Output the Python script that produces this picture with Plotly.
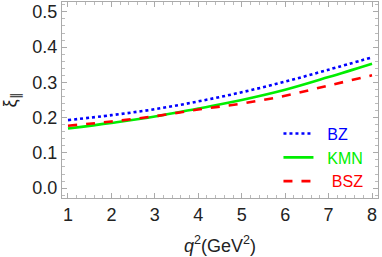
import plotly.graph_objects as go

q2 = [1, 2, 3, 4, 5, 6, 7, 8]
bz = [0.193, 0.207, 0.224, 0.246, 0.272, 0.302, 0.336, 0.371]
kmn = [0.169, 0.185, 0.203, 0.226, 0.250, 0.279, 0.315, 0.353]
bsz = [0.177, 0.189, 0.204, 0.223, 0.240, 0.262, 0.291, 0.320]
names = ["BZ", "KMN", "BSZ"]
colors = ["#0000ff", "#00ee00", "#ff0000"]
dashes = ["dot", "solid", "dash"]
pads = ["\u00a0\u00a0", "\u00a0\u00a0", "\u00a0\u00a0\u00a0"]

fig = go.Figure()
for name, ys, c, d, p in zip(names, [bz, kmn, bsz], colors, dashes, pads):
    fig.add_trace(go.Scatter(
        x=q2, y=ys, mode="lines",
        name=f"<span style='color:{c}'>{p}{name}</span>",
        line=dict(color=c, width=2.6, dash=d, shape="spline"),
    ))

font = "Liberation Sans, Arial, sans-serif"
axis_common = dict(
    showgrid=False, zeroline=False, showline=True, linecolor="#aaaaaa",
    linewidth=1, mirror="allticks", ticks="inside", ticklen=5,
    tickcolor="#aaaaaa", tickfont=dict(size=18, color="#222", family=font),
    ticklabeloverflow="allow", automargin=False,
)
fig.update_xaxes(
    range=[0.862, 8.138], tickmode="array", tickvals=q2,
    minor=dict(ticks="inside", ticklen=3, dtick=0.2, tickcolor="#bbbbbb"),
    title=dict(text="<i>q</i><sup>2</sup>(GeV<sup>2</sup>)", font=dict(size=18, color="#222", family=font)),
    **axis_common,
)
fig.update_yaxes(
    range=[-0.028, 0.528], tickmode="array",
    tickvals=[0.0, 0.1, 0.2, 0.3, 0.4, 0.5],
    ticktext=["0.0", "0.1", "0.2", "0.3", "0.4", "0.5"],
    minor=dict(ticks="inside", ticklen=3, dtick=0.02, tickcolor="#bbbbbb"),
    title=dict(text="ξ<sub>∥</sub>", font=dict(size=18, color="#222", family=font)),
    **axis_common,
)
fig.update_layout(
    width=382, height=257,
    margin=dict(l=62, r=4, t=2, b=59),
    plot_bgcolor="white", paper_bgcolor="white",
    font=dict(family=font),
    legend=dict(
        x=0.685, y=0.415, xanchor="left", yanchor="top",
        bgcolor="rgba(0,0,0,0)", font=dict(size=16, family=font),
        itemwidth=30, tracegroupgap=0,
    ),
)

fig.write_html(
    "out.html",
    config={"displayModeBar": False},
    post_script="document.body.style.margin='0';document.body.style.overflow='hidden';",
)
